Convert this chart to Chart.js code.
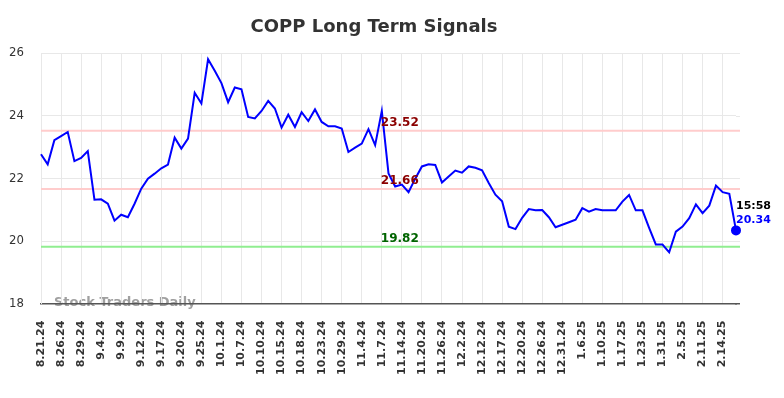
<!DOCTYPE html>
<html>
<head>
<meta charset="utf-8">
<title>COPP Long Term Signals</title>
<script src="https://cdn.jsdelivr.net/npm/chart.js@4.4.1/dist/chart.umd.min.js"></script>
<style>
  body { margin: 0; background: #ffffff; }
  #container { width: 784px; height: 398px; }
</style>
</head>
<body>
<div id="container">
  <canvas id="my-chart" width="784" height="398"></canvas>
</div>
<script>
'use strict';

//chart data
let dates = [
  '8.21.24', '8.22.24', '8.23.24', '8.26.24', '8.27.24', '8.28.24', '8.29.24', '8.30.24', '9.3.24', '9.4.24',
  '9.5.24', '9.6.24', '9.9.24', '9.10.24', '9.11.24', '9.12.24', '9.13.24', '9.16.24', '9.17.24', '9.18.24',
  '9.19.24', '9.20.24', '9.23.24', '9.24.24', '9.25.24', '9.26.24', '9.30.24', '10.1.24', '10.2.24', '10.4.24',
  '10.7.24', '10.8.24', '10.9.24', '10.10.24', '10.11.24', '10.14.24', '10.15.24', '10.16.24', '10.17.24', '10.18.24',
  '10.21.24', '10.22.24', '10.23.24', '10.24.24', '10.28.24', '10.29.24', '10.30.24', '11.1.24', '11.4.24', '11.5.24',
  '11.6.24', '11.7.24', '11.8.24', '11.12.24', '11.14.24', '11.15.24', '11.18.24', '11.20.24', '11.21.24', '11.22.24',
  '11.26.24', '11.27.24', '11.29.24', '12.2.24', '12.4.24', '12.9.24', '12.12.24', '12.13.24', '12.16.24', '12.17.24',
  '12.18.24', '12.19.24', '12.20.24', '12.23.24', '12.24.24', '12.26.24', '12.27.24', '12.30.24', '12.31.24', '1.2.25',
  '1.3.25', '1.6.25', '1.7.25', '1.8.25', '1.10.25', '1.13.25', '1.14.25', '1.17.25', '1.21.25', '1.22.25',
  '1.23.25', '1.24.25', '1.28.25', '1.31.25', '2.3.25', '2.4.25', '2.5.25', '2.6.25', '2.7.25', '2.11.25',
  '2.12.25', '2.13.25', '2.14.25', '2.18.25', '2.19.25'
];

let prices = [
  22.77, 22.45, 23.22, 23.35, 23.48, 22.55, 22.65, 22.87, 21.32, 21.33,
  21.19, 20.65, 20.84, 20.76, 21.19, 21.67, 21.99, 22.15, 22.32, 22.44,
  23.30, 22.95, 23.27, 24.73, 24.39, 25.80, 25.43, 25.04, 24.43, 24.90,
  24.84, 23.96, 23.91, 24.15, 24.47, 24.23, 23.62, 24.03, 23.64, 24.11,
  23.83, 24.20, 23.80, 23.66, 23.66, 23.59, 22.84, 22.98, 23.11, 23.57,
  23.06, 24.15, 22.16, 21.74, 21.80, 21.56, 21.99, 22.38, 22.45, 22.43,
  21.87, 22.06, 22.25, 22.18, 22.38, 22.34, 22.26, 21.85, 21.48, 21.27,
  20.46, 20.38, 20.74, 21.02, 20.98, 20.99, 20.76, 20.44, 20.52, 20.60,
  20.68, 21.05, 20.94, 21.02, 20.98, 20.98, 20.98, 21.26, 21.47, 20.98,
  20.98, 20.42, 19.89, 19.89, 19.64, 20.30, 20.46, 20.73, 21.17, 20.89,
  21.13, 21.77, 21.56, 21.51, 20.34
];

//signal levels
let signalValues = [23.52, 21.66, 19.82];
let signalLineColors = ['#ffcccc', '#ffcccc', '#90ee90'];
let signalTextColors = ['#8b0000', '#8b0000', '#006400'];

let yTicks = [18, 20, 22, 24, 26];
let lastTime = '15:58';
let labelEvery = 3;

const ctx = document.getElementById('my-chart').getContext('2d');
let lastIndex = prices.length - 1;

//plugin for title, watermark, signal lines and last price
const extras = {
  id: 'extras',
  beforeDraw(chart) {
    let c = chart.ctx;
    let area = chart.chartArea;
    c.save();
    c.font = 'bold 18px "DejaVu Sans", sans-serif';
    c.fillStyle = '#333333';
    c.textAlign = 'center';
    c.textBaseline = 'middle';
    c.fillText('COPP Long Term Signals', 374, 27);

    c.font = 'bold 13px "DejaVu Sans", sans-serif';
    c.fillStyle = '#a0a0a0';
    c.textAlign = 'left';
    c.fillText('Stock Traders Daily', area.left + 13, area.bottom - 1);

    //grid lines run a little past the last point
    let y = chart.scales.y;
    c.strokeStyle = '#e8e8e8';
    c.lineWidth = 1;
    for (let i = 1; i < yTicks.length; i++) {
      let py = Math.round(y.getPixelForValue(yTicks[i])) + 0.5;
      c.beginPath();
      c.moveTo(area.right, py);
      c.lineTo(area.right + 4, py);
      c.stroke();
    }
    c.restore();
  },
  beforeDatasetsDraw(chart) {
    let c = chart.ctx;
    let area = chart.chartArea;
    let y = chart.scales.y;
    c.save();
    for (let i = 0; i < signalValues.length; i++) {
      let py = y.getPixelForValue(signalValues[i]);
      c.strokeStyle = signalLineColors[i];
      c.lineWidth = 2;
      c.beginPath();
      c.moveTo(area.left, py);
      c.lineTo(area.right + 4, py);
      c.stroke();
    }
    //bottom axis line extension
    c.strokeStyle = '#555555';
    c.lineWidth = 1.5;
    c.beginPath();
    c.moveTo(area.right - 1, area.bottom);
    c.lineTo(area.right + 4, area.bottom);
    c.stroke();
    c.restore();
  },
  afterDatasetsDraw(chart) {
    let c = chart.ctx;
    let x = chart.scales.x;
    let y = chart.scales.y;
    c.save();
    c.font = 'bold 12px "DejaVu Sans", sans-serif';
    c.textAlign = 'left';
    c.textBaseline = 'middle';
    let tx = x.getPixelForValue(51) - 1;
    for (let i = 0; i < signalValues.length; i++) {
      c.fillStyle = signalTextColors[i];
      c.fillText(signalValues[i].toFixed(2), tx, y.getPixelForValue(signalValues[i]) - 8);
    }

    let lx = x.getPixelForValue(lastIndex);
    let ly = y.getPixelForValue(prices[lastIndex]);
    c.font = 'bold 11px "DejaVu Sans", sans-serif';
    c.fillStyle = '#000000';
    c.fillText(lastTime, lx, ly - 24);
    c.fillStyle = '#0000ff';
    c.fillText(prices[lastIndex].toFixed(2), lx, ly - 10);
    c.restore();
  }
};

const myChart = new Chart(ctx, {
  type: 'line',
  data: {
    labels: dates,
    datasets: [{
      label: 'COPP',
      data: prices,
      borderColor: '#0000ff',
      backgroundColor: '#0000ff',
      borderWidth: 2,
      tension: 0,
      pointRadius: (c) => c.dataIndex === lastIndex ? 4 : 0,
      pointHoverRadius: 0
    }]
  },
  options: {
    responsive: false,
    animation: false,
    layout: {
      padding: { top: 53, right: 48, bottom: 6, left: 0 }
    },
    plugins: {
      legend: { display: false },
      title: { display: false },
      tooltip: { enabled: false }
    },
    scales: {
      x: {
        grid: { color: '#e8e8e8', drawTicks: false },
        border: { color: '#555555', width: 1.5 },
        ticks: {
          autoSkip: false,
          minRotation: 90,
          maxRotation: 90,
          padding: 17,
          color: '#333333',
          font: { family: '"DejaVu Sans", sans-serif', size: 11, weight: 'bold' },
          callback: (v, i) => i % labelEvery === 0 ? dates[i] : null
        }
      },
      y: {
        min: yTicks[0],
        max: yTicks[yTicks.length - 1],
        afterBuildTicks: (scale) => {
          scale.ticks = yTicks.map((v) => ({ value: v }));
        },
        afterFit: (scale) => {
          scale.width = 41;
        },
        grid: { color: '#e8e8e8', drawTicks: false },
        border: { color: '#e8e8e8' },
        ticks: {
          padding: 17,
          color: '#333333',
          font: { family: '"DejaVu Sans Condensed", "DejaVu Sans", sans-serif', size: 13 }
        }
      }
    }
  },
  plugins: [extras]
});
</script>
</body>
</html>
